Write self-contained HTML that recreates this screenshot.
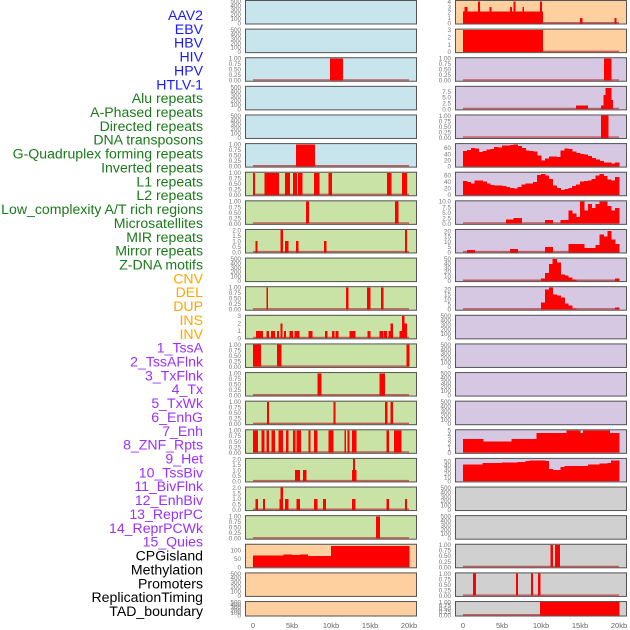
<!DOCTYPE html>
<html><head><meta charset="utf-8">
<style>
html,body{margin:0;padding:0;background:#fff;width:630px;height:630px;overflow:hidden}
svg{display:block;font-family:"Liberation Sans",sans-serif}
</style></head>
<body>
<svg id="chart" width="630" height="630" viewBox="0 0 630 630" xmlns="http://www.w3.org/2000/svg"></svg>
<script>
// ---------- data ----------
const labels = ["AAV2","EBV","HBV","HIV","HPV","HTLV-1","Alu repeats","A-Phased repeats","Directed repeats","DNA transposons","G-Quadruplex forming repeats","Inverted repeats","L1 repeats","L2 repeats","Low_complexity A/T rich regions","Microsatellites","MIR repeats","Mirror repeats","Z-DNA motifs","CNV","DEL","DUP","INS","INV","1_TssA","2_TssAFlnk","3_TxFlnk","4_Tx","5_TxWk","6_EnhG","7_Enh","8_ZNF_Rpts","9_Het","10_TssBiv","11_BivFlnk","12_EnhBiv","13_ReprPC","14_ReprPCWk","15_Quies","CPGisland","Methylation","Promoters","ReplicationTiming","TAD_boundary"];
const labelGroups = [0,0,0,0,0,0,1,1,1,1,1,1,1,1,1,1,1,1,1,2,2,2,2,2,3,3,3,3,3,3,3,3,3,3,3,3,3,3,3,4,4,4,4,4];
const xTickValues = [0,5,10,15,20];
const xTickLabels = ["0","5kb","10kb","15kb","20kb"];

const midBg = ["blue","blue","blue","blue","blue","blue","green","green","green","green","green","green","green","green","green","green","green","green","green","peach","peach","peach"];
const midYmax = [500,500,1,500,500,1,1,1,2,500,1,3,1,1,1,1,2,2,1,130,500,500];
const midTickSets = ["T500","T500","T1","T500","T500","T1","T1","T1","T2","T500","T1","T3","T1","T1","T1","T1","T2","T2","T1","T100","T500","T500"];
const midSegs = [
 [],[],
 [[9.9,11.5,1]],
 [],[],
 [[5.5,7.9,1]],
 [[0,0.2,1],[1.5,3.3,1],[4.1,4.7,1],[5.1,5.6,1],[5.8,6.3,1],[7.8,8.5,1],[9.7,10.1,1],[17.2,17.7,1],[19.1,19.7,1]],
 [[6.8,7.1,1],[18.2,18.6,1]],
 [[0.3,0.5,1],[3.5,3.8,2],[4.1,4.5,1],[5.5,5.8,1],[9.1,9.4,1],[19.5,19.7,2]],
 [],
 [[1.7,1.9,1],[11.9,12.2,1],[14.6,15.0,1],[16.4,16.7,1]],
 [[0.4,1.2,1],[1.7,2.0,1],[2.3,2.8,1],[3.1,3.3,1],[3.5,3.7,2],[4.0,4.2,1],[4.7,5.1,1],[5.3,5.9,1],[7.1,7.6,1],[9.2,9.5,1],[10.1,10.4,1],[10.6,10.9,1],[12.4,13.1,1],[14.7,15.0,1],[16.2,16.7,1],[16.8,17.1,1],[17.4,17.6,1],[17.6,17.9,2],[18.8,19.1,1],[19.1,19.4,3],[19.4,19.7,2]],
 [[0,1.0,1],[3.1,3.6,1],[19.7,20,1]],
 [[8.3,8.7,1],[16.2,16.9,1]],
 [[1.8,2.0,1],[10.3,10.5,1],[16.9,17.2,1],[17.6,17.9,1]],
 [[0,0.6,1],[1.1,1.4,1],[1.7,2.0,1],[2.4,2.8,1],[3.3,3.8,1],[4.2,4.5,1],[5.1,5.4,1],[5.6,6.1,1],[7.1,7.3,1],[7.8,8.2,1],[9.7,10.3,1],[11.7,11.9,1],[12.1,12.3,1],[12.7,13.2,1],[17.1,17.4,1],[18.1,19.0,1]],
 [[5.4,6.0,1],[6.4,6.8,1],[12.7,12.8,1],[12.8,13.0,2],[13.0,13.2,1]],
 [[0.3,0.6,1],[1.3,1.5,1],[3.4,3.5,1],[3.5,3.8,2],[4.1,4.5,1],[5.6,6.0,1],[7.8,8.2,1],[9.0,9.3,1],[12.7,13.1,1],[17.1,17.4,1],[19.5,19.7,1]],
 [[15.8,16.2,1]],
 [[0,3.9,68],[3.9,5,75],[5,6,70],[6,7,75],[7,10,65],[10,20,125]],
 [],[]
];

const rightBg = ["peach","peach","purple","purple","purple","purple","purple","purple","purple","purple","purple","purple","purple","purple","purple","purple","purple","gray","gray","gray","gray","gray"];
const rightYmax = [4.1,3,1,9.5,1,72,68,10,21,50,22,500,500,500,500,5,55,500,500,1,1,1];
const rightTickSets = ["T4","T3","T1","T75","T1","T60","T60","T10","T20","T50","T20","T500","T500","T500","T500","T5","T50","T500","T500","T1","T1","T1"];
const rightSegs = [
 [[0,10.2,2.2],[0.2,0.5,3],[1.9,2.1,4],[3.4,3.6,3],[6.0,6.2,3],[6.5,6.7,4],[7.6,7.8,3],[9.9,10.1,4],[15.0,15.3,1],[19.4,19.6,1]],
 [[0,10.2,3]],
 [[18.1,19.0,1]],
 [[14.5,16.0,1.5],[17.7,18.0,1.5],[18.0,18.3,6],[18.3,19.0,9],[19.0,19.2,4]],
 [[17.7,18.6,1]],
 [],[],[],[],[],[],
 [],[],[],[],
 [[0,2.6,3.1],[2.6,6.2,2.5],[6.2,9.4,3.1],[9.4,13.3,4.4],[13.3,15.0,5],[15.0,15.4,4.4],[15.4,18.8,5],[18.8,20,4.4]],
 [],
 [],[],
 [[11.2,11.5,1],[11.8,12.4,1]],
 [[1.3,1.6,1],[6.8,7.0,1],[8.7,8.9,1],[9.6,9.9,1]],
 [[9.9,20,1]]
];
// binned series (0.5kb bins) for right-column area tracks
const gquadBins = [50,53,60,58,47,50,55,57,63,62,68,68,69,71,66,60,52,50,48,35,19,25,32,33,30,52,59,57,48,44,41,38,34,28,22,17,12,12,10,12];
const invertedBins = [43,40,36,45,45,42,35,31,30,29,28,24,21,20,24,32,35,36,40,62,65,60,50,30,22,16,18,22,28,33,42,43,45,50,60,64,58,48,45,55];
const l1Bins = [0,0,0,0,0,0,0,0,0,0,0,1.8,1.8,2.5,2.5,0,0,0,0,0,0,1.7,1.7,0,0,1.7,1.7,6,4.5,3,10,6,9,7,9,10,10,8,6,7];
const l2Bins = [0,2,2,0,0,0,0,0,0,0,0,0,3,3,0,0,0,0,0,0,0,5,5,0,0,0,0,8,8,8,8,4,4,4,7,17,15,20,12,8];
const lowcBins = [0,0,0,0,0,0,0,0,0,0,0,0,0,0,0,0,0,0,0,0,5,18,38,50,42,15,12,8,3,0,0,0,0,0,0,0,0,0,0,5];
const microBins = [0,0,0,0,0,0,0,0,0,0,0,0,0,0,0,0,0,0,0,0,7,20,22,15,14,12,6,4,1,0,0,0,0,0,0,0,0,0,0,2];
const enh7Bins = [42,42,42,42,42,45,45,45,45,45,46,46,47,47,48,48,50,52,52,52,52,50,30,28,28,35,38,38,38,38,38,38,42,42,42,44,44,45,52,52];
const rightBins = {5:gquadBins,6:invertedBins,7:l1Bins,8:l2Bins,9:lowcBins,10:microBins,16:enh7Bins};

const tickSets = {
 T500:{v:[0,100,200,300,400,500],l:["0","100","200","300","400","500"]},
 T1:{v:[0,0.25,0.5,0.75,1],l:["0.00","0.25","0.50","0.75","1.00"]},
 T2:{v:[0,0.5,1,1.5,2],l:["0.0","0.5","1.0","1.5","2.0"]},
 T3:{v:[0,1,2,3],l:["0","1","2","3"]},
 T4:{v:[0,1,2,3,4],l:["0","1","2","3","4"]},
 T5:{v:[0,1,2,3,4,5],l:["0","1","2","3","4","5"]},
 T75:{v:[0,2.5,5,7.5],l:["0.0","2.5","5.0","7.5"]},
 T60:{v:[0,20,40,60],l:["0","20","40","60"]},
 T10:{v:[0,2.5,5,7.5,10],l:["0.0","2.5","5.0","7.5","10.0"]},
 T20:{v:[0,5,10,15,20],l:["0","5","10","15","20"]},
 T50:{v:[0,10,20,30,40,50],l:["0","10","20","30","40","50"]},
 T100:{v:[0,50,100],l:["0","50","100"]}
};
// ---------- drawing ----------
const NS="http://www.w3.org/2000/svg";
const svg=document.getElementById('chart');
const bgColors={blue:"#c8e4ec",green:"#c9e2a5",peach:"#fed0a0",purple:"#d6c7e2",gray:"#d0d0d0"};
const labelColors=["#1a1aff","#1a7a1a","#ffa500","#9b30ff","#000000"];
function mk(tag,attrs,parent){const e=document.createElementNS(NS,tag);for(const k in attrs)e.setAttribute(k,attrs[k]);(parent||svg).appendChild(e);return e;}
function rowTop(i){return i*28.62;}
function rowH(i){return i===21?15.5:24.5;}
function xScale(col,kb){return (col===0?253:463)+kb*7.8;}
function yScale(i,v,ymax){const t=rowTop(i)+1.2,b=rowTop(i)+rowH(i)-1.2;return b-(v/ymax)*(b-t);}

labels.forEach((t,i)=>{
  const e=mk('text',{x:203,y:15+i*13.86+5,'text-anchor':'end','font-size':14.1,fill:labelColors[labelGroups[i]]});
  
  
  e.textContent=t;
});

function drawPanel(col,i,bg,ymax,tickKey,segs,bins){
  const x0=col===0?245:455, w=172;
  const g=mk('g',{});
  
  
  mk('rect',{x:x0,y:rowTop(i),width:w,height:rowH(i),fill:bgColors[bg]},g);
  const ts=tickSets[tickKey];
  ts.v.forEach((v,k)=>{
    const tt=mk('text',{x:x0-4,y:yScale(i,v,ymax)+2.2,'text-anchor':'end','font-size':6.3,fill:'#777'},g);
    
    
    tt.textContent=ts.l[k];
  });
  const hasData=(segs&&segs.length)||bins;
  if(hasData){
    mk('line',{x1:xScale(col,0),x2:xScale(col,20),y1:yScale(i,0,ymax)-0.6,y2:yScale(i,0,ymax)-0.6,stroke:'#c04040','stroke-width':1.5,opacity:0.8},g);
  }
  const drawSeg=(s,e,v)=>{
    if(v<=0)return;
    const y=yScale(i,Math.min(v,ymax),ymax), yb=yScale(i,0,ymax);
    const r=mk('rect',{x:xScale(col,s),y:y,width:Math.max(1.2,xScale(col,e)-xScale(col,s)+0.4),height:yb-y,fill:'#ff0000','shape-rendering':'crispEdges'},g);
    
    
  };
  if(segs)segs.forEach(sg=>drawSeg(sg[0],sg[1],sg[2]));
  if(bins)bins.forEach((v,k)=>drawSeg(k*0.5,k*0.5+0.5,v));
  mk('rect',{x:x0+0.5,y:rowTop(i)+0.5,width:w-1,height:rowH(i)-1,fill:'none',stroke:'#555','stroke-width':1},g);
}
for(let i=0;i<22;i++){
  drawPanel(0,i,midBg[i],midYmax[i],midTickSets[i],midSegs[i],null);
  drawPanel(1,i,rightBg[i],rightYmax[i],rightTickSets[i],rightSegs[i],rightBins[i]||null);
}
[0,1].forEach(col=>{
  xTickValues.forEach((v,k)=>{
    const t=mk('text',{x:xScale(col,v),y:628,'text-anchor':'middle','font-size':7.5,fill:'#666'});
    
    
    t.textContent=xTickLabels[k];
  });
});
</script>
</body></html>
